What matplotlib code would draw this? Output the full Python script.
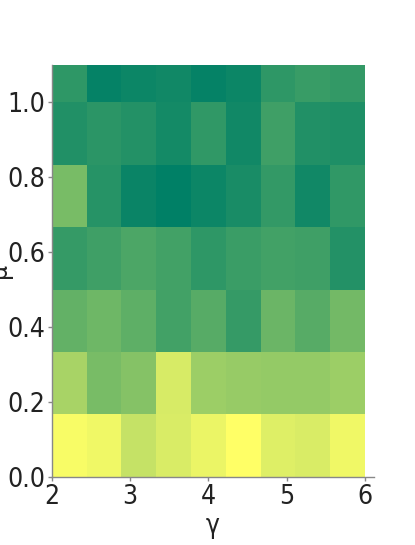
import matplotlib
matplotlib.use("Agg")
import matplotlib.pyplot as plt
import numpy as np

# grid edges (gamma along x, mu along y)
gamma_edges = np.linspace(2, 6, 10)
mu_edges = np.linspace(0, 7 / 6, 8)

# cell values, rows from mu=0 upward, columns from gamma=2 rightward
row0 = [0.03, 0.06, 0.23, 0.15, 0.08, 0.00, 0.13, 0.15, 0.06]
row1 = [0.34, 0.53, 0.48, 0.16, 0.39, 0.41, 0.42, 0.42, 0.39]
row2 = [0.61, 0.57, 0.63, 0.74, 0.66, 0.79, 0.58, 0.66, 0.55]
row3 = [0.79, 0.75, 0.70, 0.74, 0.82, 0.77, 0.74, 0.75, 0.86]
row4 = [0.53, 0.85, 0.96, 1.00, 0.95, 0.90, 0.80, 0.93, 0.81]
row5 = [0.87, 0.83, 0.86, 0.92, 0.81, 0.93, 0.75, 0.87, 0.88]
row6 = [0.82, 0.98, 0.95, 0.93, 0.98, 0.95, 0.82, 0.78, 0.80]
values = np.array([row0, row1, row2, row3, row4, row5, row6])

xticks = [2, 3, 4, 5, 6]
yticks = [0.0, 0.2, 0.4, 0.6, 0.8, 1.0]

plt.rcParams['font.family'] = ['DejaVu Sans']
plt.rcParams['font.stretch'] = 'condensed'

fig = plt.figure(figsize=(4.15, 5.45), dpi=100)
ax = fig.add_axes([0.125, 0.125, 0.775, 0.756])
ax.pcolormesh(gamma_edges, mu_edges, values, cmap='summer_r', vmin=0, vmax=1)
ax.set_xlim(2, 6.11)
ax.set_ylim(0, 1.1)

ax.set_xticks(xticks)
ax.set_yticks(yticks)
ax.set_xticklabels([str(t) for t in xticks])
ax.set_yticklabels([f'{t:.1f}' for t in yticks])
ax.tick_params(labelsize=19, length=3, width=1, color='#888888', labelcolor='#222222', pad=2)

for side in ['top', 'right']:
  ax.spines[side].set_visible(False)
for side in ['left', 'bottom']:
  ax.spines[side].set_color('#888888')
  ax.spines[side].set_linewidth(1)

ax.set_xlabel('γ', fontsize=19, color='#222222', labelpad=2)
ax.set_ylabel('μ', fontsize=19, color='#222222')
# the reference has the mu label half cut off at the left edge
ax.yaxis.set_label_coords(-0.124, 0.5)

fig.savefig('out.png', dpi=100)
